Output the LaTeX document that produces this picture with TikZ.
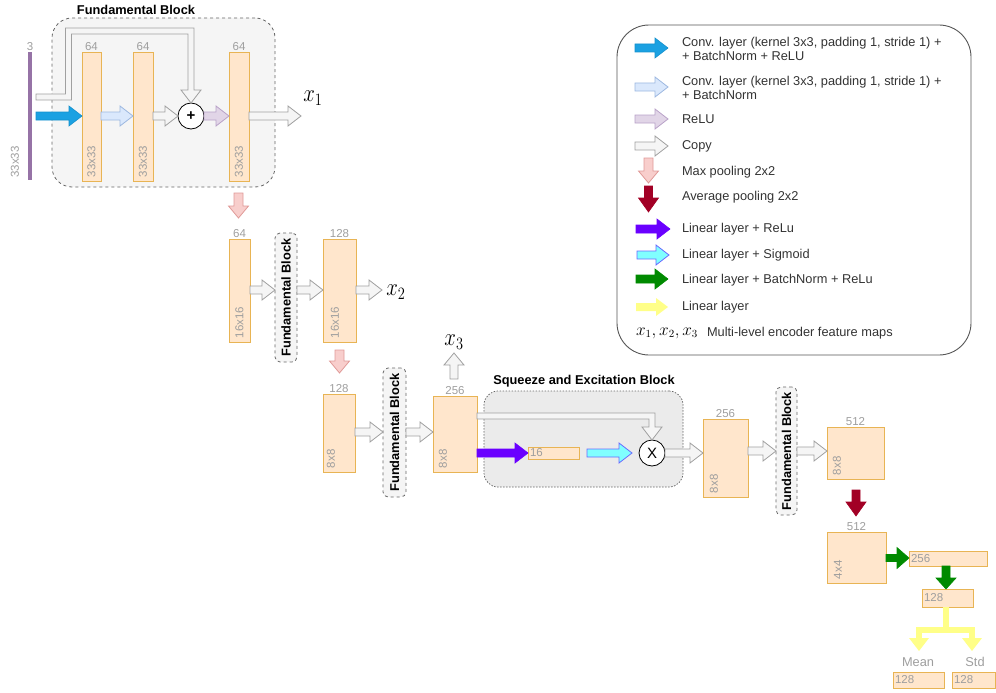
\documentclass[tikz,border=0pt]{standalone}
\usepackage{fontspec}
\setmainfont{Liberation Sans}
\usetikzlibrary{calc}
\definecolor{layerfill}{HTML}{FFE6CC}
\definecolor{layerdraw}{HTML}{E8B454}
\definecolor{dimgray}{HTML}{9E9E9E}
\definecolor{fbfill}{HTML}{F5F5F5}
\definecolor{fbdraw}{HTML}{666666}
\definecolor{sefill}{HTML}{EBEBEB}
\definecolor{barpurple}{HTML}{9673A6}
\definecolor{convblue}{HTML}{1BA1E2}
\definecolor{convbluedraw}{HTML}{1590CC}
\definecolor{lbfill}{HTML}{DAE8FC}
\definecolor{lbdraw}{HTML}{9DB8E0}
\definecolor{rlfill}{HTML}{E1D5E7}
\definecolor{rldraw}{HTML}{B9A2C8}
\definecolor{copyfill}{HTML}{F5F5F5}
\definecolor{copydraw}{HTML}{A0A0A0}
\definecolor{mpfill}{HTML}{F8CECC}
\definecolor{mpdraw}{HTML}{E09A98}
\definecolor{apfill}{HTML}{A20025}
\definecolor{lrfill}{HTML}{6A00FF}
\definecolor{sgfill}{HTML}{80FFFF}
\definecolor{sgdraw}{HTML}{6A6AFF}
\definecolor{grfill}{HTML}{008A00}
\definecolor{ylfill}{HTML}{FFFF88}
\definecolor{legdraw}{HTML}{555555}
\definecolor{legtxt}{HTML}{333333}
% block arrows: #2 start, #3 end, #4 shaft half width, #5 head half width, #6 head length
\newcommand{\RArr}[6][]{\path[#1] let \p1=#2, \p2=#3 in (\x1,\y1+#4) -- (\x2-#6,\y1+#4) -- (\x2-#6,\y1+#5) -- (\x2,\y1) -- (\x2-#6,\y1-#5) -- (\x2-#6,\y1-#4) -- (\x1,\y1-#4) -- cycle;}
\newcommand{\DArr}[6][]{\path[#1] let \p1=#2, \p2=#3 in (\x1-#4,\y1) -- (\x1-#4,\y2+#6) -- (\x1-#5,\y2+#6) -- (\x1,\y2) -- (\x1+#5,\y2+#6) -- (\x1+#4,\y2+#6) -- (\x1+#4,\y1) -- cycle;}
\newcommand{\UArr}[6][]{\path[#1] let \p1=#2, \p2=#3 in (\x1-#4,\y1) -- (\x1-#4,\y2-#6) -- (\x1-#5,\y2-#6) -- (\x1,\y2) -- (\x1+#5,\y2-#6) -- (\x1+#4,\y2-#6) -- (\x1+#4,\y1) -- cycle;}
\newcommand{\rarr}[3][]{\RArr[#1]{#2}{#3}{4pt}{10pt}{13pt}}
\newcommand{\darr}[3][]{\DArr[#1]{#2}{#3}{4.5pt}{10pt}{12pt}}
\newcommand{\mlbl}[1]{\scalebox{1}[1.2]{$#1$}}
\begin{document}
\begin{tikzpicture}[x=1pt,y=-1pt, line join=miter,
  every node/.style={inner sep=0pt, outer sep=0pt},
  layer/.style={draw=layerdraw, fill=layerfill, line width=0.9pt, anchor=north west},
  dim/.style={text=dimgray, font=\fontsize{11.5}{13}\selectfont, inner sep=1.5pt},
  dimr/.style={dim, rotate=90, anchor=west, inner sep=2pt},
  fbbox/.style={draw=fbdraw, dashed, fill=fbfill, line width=0.8pt, rounded corners=5pt, anchor=north west},
  ttl/.style={font=\bfseries\fontsize{12.8}{15}\selectfont},
  legtext/.style={font=\fontsize{12.8}{14.5}\selectfont, text=legtxt, anchor=west, align=left},
  mathlbl/.style={font=\fontsize{20}{24}\selectfont},
  copyarr/.style={draw=copydraw, fill=copyfill, line width=0.8pt},
  convarr/.style={draw=convbluedraw, fill=convblue, line width=0.6pt},
  bnarr/.style={draw=lbdraw, fill=lbfill, line width=0.8pt},
  reluarr/.style={draw=rldraw, fill=rlfill, line width=0.8pt},
  mparr/.style={draw=mpdraw, fill=mpfill, line width=0.8pt},
  aparr/.style={draw=apfill, fill=apfill, line width=0.6pt},
  lrarr/.style={draw=lrfill, fill=lrfill, line width=0.6pt},
  sgarr/.style={draw=sgdraw, fill=sgfill, line width=0.8pt},
  grarr/.style={draw=grfill, fill=grfill, line width=0.6pt},
  ylarr/.style={fill=ylfill},
  opnode/.style={circle, draw=black, fill=white, line width=0.8pt, minimum size=26pt, font=\fontsize{15}{16}\selectfont}
]
\useasboundingbox (0,0) rectangle (996,693);

% ---------------- Fundamental block 1 ----------------
\node[fbbox, rounded corners=20pt, minimum width=223pt, minimum height=169pt] (fb1) at (52,18) {};
\node[ttl] (fb1t) at (136,10) {Fundamental Block};
\fill[barpurple] (28.3,52) rectangle (32.3,180);
\coordinate (inbar) at (30,52);
\node[dim, above] at (inbar) {3};
\node[dim, rotate=90] at (15,162) {33x33};

\node[layer, minimum width=19pt, minimum height=129pt] (r1) at (82,52) {};
\node[layer, minimum width=20pt, minimum height=129pt] (r2) at (133,52) {};
\node[layer, minimum width=20pt, minimum height=129pt] (r3) at (229,52) {};
\foreach \r in {r1,r2,r3}{
  \node[dim, above] at (\r.north) {64};
  \node[dimr] at ($(\r.south)+(0,-2)$) {33x33};
}
\node[opnode] (plus) at (191,116) {\textbf{+}};

\path[copyarr] (36,94) -- (65.5,94) -- (65.5,28) -- (194,28) -- (194,90) -- (201,90) -- (191,103) -- (181,90) -- (188,90) -- (188,34) -- (71.5,34) -- (71.5,100) -- (36,100) -- cycle;
\coordinate (in1) at (36,116);
\rarr[convarr]{(in1)}{(r1.west |- in1)}
\rarr[bnarr]{(r1.east |- in1)}{(r2.west |- in1)}
\rarr[copyarr]{(r2.east |- in1)}{(plus.west)}
\rarr[reluarr]{(plus.east)}{(r3.west |- in1)}
\coordinate (x1end) at (301,116);
\rarr[copyarr]{(r3.east |- in1)}{(x1end)}
\node[mathlbl] (x1) at (313,98) {\mlbl{x_1}};

% ---------------- level 2 ----------------
\node[layer, minimum width=21pt, minimum height=103pt] (r4) at (229,239) {};
\node[dim, above] at (r4.north) {64};
\node[dimr] at ($(r4.south west)+(10.5,-2)$) {16x16};
\coordinate (mp1a) at (238.5,193);
\darr[mparr]{(mp1a)}{(mp1a |- 0,218)}

\node[fbbox, minimum width=22pt, minimum height=129pt] (fb2) at (275,233) {};
\node[ttl, rotate=90] at (fb2.center) {Fundamental Block};

\node[layer, minimum width=33pt, minimum height=103pt] (r5) at (323,239) {};
\node[dim, above] at (r5.north) {128};
\node[dimr] at ($(r5.south west)+(12,-2)$) {16x16};

\coordinate (l2) at (0,290);
\rarr[copyarr]{(r4.east |- l2)}{(fb2.west |- l2)}
\rarr[copyarr]{(fb2.east |- l2)}{(r5.west |- l2)}
\coordinate (x2end) at (382,290);
\rarr[copyarr]{(r5.east |- l2)}{(x2end)}
\node[mathlbl] (x2) at (396,292) {\mlbl{x_2}};

% ---------------- level 3 ----------------
\coordinate (mp2a) at (339.5,350);
\darr[mparr]{(mp2a)}{(mp2a |- 0,373)}
\node[layer, minimum width=32pt, minimum height=78pt] (r6) at (323,394) {};
\node[dim, above] at (r6.north) {128};
\node[dimr] at ($(r6.south west)+(8,-2)$) {8x8};

\node[fbbox, minimum width=23pt, minimum height=129pt] (fb3) at (383,368) {};
\node[ttl, rotate=90] at (fb3.center) {Fundamental Block};

\node[layer, minimum width=44pt, minimum height=76pt] (r7) at (433,396) {};
\node[dim, above] at (r7.north) {256};
\node[dimr] at ($(r7.south west)+(10,-2)$) {8x8};

\coordinate (l3) at (0,432);
\rarr[copyarr]{(r6.east |- l3)}{(fb3.west |- l3)}
\rarr[copyarr]{(fb3.east |- l3)}{(r7.west |- l3)}
\coordinate (x3a) at (454,379);
\UArr[copyarr]{(x3a)}{(x3a |- 0,353)}{4pt}{10pt}{12pt}
\node[mathlbl] (x3) at (454,342) {\mlbl{x_3}};

% ---------------- SE block ----------------
\node[draw=fbdraw, dash pattern=on 1.5pt off 1.5pt, fill=sefill, line width=0.7pt, rounded corners=14pt, anchor=north west, minimum width=199pt, minimum height=96pt] (se) at (484,391) {};
\node[ttl] at (584,381) {Squeeze and Excitation Block};
\node[opnode] (times) at (652,453) {X};
\node[layer, minimum width=51pt, minimum height=12pt] (r8) at (528,447) {};
\node[dim, anchor=west, inner sep=2pt] at (r8.west) {16};
\path[copyarr] (477,413) -- (655,413) -- (655,427) -- (662,427) -- (652,440) -- (642,427) -- (649,427) -- (649,419) -- (477,419) -- cycle;
\rarr[lrarr]{(r7.east |- times)}{(r8.west |- times)}
\coordinate (sga) at (587,453);
\coordinate (sgb) at (632,453);
\rarr[sgarr]{(sga)}{(sgb)}

% ---------------- level 4 ----------------
\node[layer, minimum width=45pt, minimum height=78pt] (r9) at (703,419) {};
\node[dim, above] at (r9.north) {256};
\node[dimr] at ($(r9.south west)+(11,-2)$) {8x8};
\rarr[copyarr]{(times.east)}{(r9.west |- times)}

\node[fbbox, minimum width=21pt, minimum height=128pt] (fb4) at (776,387) {};
\node[ttl, rotate=90] at (fb4.center) {Fundamental Block};

\node[layer, minimum width=57pt, minimum height=52pt] (r10) at (827,427) {};
\node[dim, above] at (r10.north) {512};
\node[dimr] at ($(r10.south west)+(10,-2)$) {8x8};

\coordinate (l4) at (0,451);
\rarr[copyarr]{(r9.east |- l4)}{(fb4.west |- l4)}
\rarr[copyarr]{(fb4.east |- l4)}{(r10.west |- l4)}

\coordinate (apa) at (856,490);
\DArr[aparr]{(apa)}{(apa |- 0,516)}{4pt}{10pt}{14pt}

\node[layer, minimum width=59pt, minimum height=51pt] (r11) at (827,532) {};
\node[dim, above] at (r11.north) {512};
\node[dimr] at ($(r11.south west)+(11,-2)$) {4x4};

\node[layer, minimum width=78pt, minimum height=15pt] (r12) at (909,551) {};
\node[dim, anchor=west, inner sep=2pt] at (r12.west) {256};
\node[layer, minimum width=51pt, minimum height=18pt] (r13) at (922,589) {};
\node[dim, anchor=west, inner sep=2pt] at (r13.west) {128};

\coordinate (g1) at (0,558);
\RArr[grarr]{(r11.east |- g1)}{(r12.west |- g1)}{3.5pt}{10.5pt}{12pt}
\coordinate (g2) at (946,566);
\DArr[grarr]{(g2)}{(g2 |- r13.north)}{4pt}{10pt}{11pt}

\node[layer, minimum width=51pt, minimum height=16pt] (r14) at (893,672) {};
\node[dim, anchor=west, inner sep=2pt] at (r14.west) {128};
\node[layer, minimum width=43pt, minimum height=16pt] (r15) at (952,672) {};
\node[dim, anchor=west, inner sep=2pt] at (r15.west) {128};
\node[dim, font=\fontsize{12.8}{14}\selectfont] (mean) at (918,662) {Mean};
\node[dim, font=\fontsize{12.8}{14}\selectfont] (std) at (975,662) {Std};

\fill[ylfill] (943,607) rectangle (949,633);
\fill[ylfill] (916,627) rectangle (975,633);
\fill[ylfill] (916,627) rectangle (922,639);
\fill[ylfill] (909,638) -- (929,638) -- (919,651) -- cycle;
\fill[ylfill] (969,627) rectangle (975,639);
\fill[ylfill] (962,638) -- (982,638) -- (972,651) -- cycle;

% ---------------- legend ----------------
\node[draw=legdraw, line width=0.9pt, rounded corners=32pt, anchor=north west, minimum width=354pt, minimum height=330pt] (leg) at (617,25) {};
\coordinate (la1) at (635,48);   \coordinate (lb1) at (668,48);
\rarr[convarr]{(la1)}{(lb1)}
\node[legtext] at (682,49) {Conv. layer (kernel 3x3, padding 1, stride 1) +\\+ BatchNorm + ReLU};
\coordinate (la2) at (635,87);   \coordinate (lb2) at (668,87);
\rarr[bnarr]{(la2)}{(lb2)}
\node[legtext] at (682,88) {Conv. layer (kernel 3x3, padding 1, stride 1) +\\+ BatchNorm};
\coordinate (la3) at (635,119);  \coordinate (lb3) at (668,119);
\rarr[reluarr]{(la3)}{(lb3)}
\node[legtext] at (682,119) {ReLU};
\coordinate (la4) at (635,146);  \coordinate (lb4) at (668,146);
\rarr[copyarr]{(la4)}{(lb4)}
\node[legtext] at (682,146) {Copy};
\coordinate (la5) at (648.5,158); \coordinate (lb5) at (648.5,183);
\darr[mparr]{(la5)}{(lb5)}
\node[legtext] at (682,172) {Max pooling 2x2};
\coordinate (la6) at (648.5,186); \coordinate (lb6) at (648.5,212);
\DArr[aparr]{(la6)}{(lb6)}{4pt}{10pt}{14pt}
\node[legtext] at (682,197) {Average pooling 2x2};
\coordinate (la7) at (636,229);  \coordinate (lb7) at (670,229);
\rarr[lrarr]{(la7)}{(lb7)}
\node[legtext] at (682,229) {Linear layer + ReLu};
\coordinate (la8) at (637,255);  \coordinate (lb8) at (669,255);
\rarr[sgarr]{(la8)}{(lb8)}
\node[legtext] at (682,255) {Linear layer + Sigmoid};
\coordinate (la9) at (636,279);  \coordinate (lb9) at (668,279);
\rarr[grarr]{(la9)}{(lb9)}
\node[legtext] at (682,280) {Linear layer + BatchNorm + ReLu};
\coordinate (la10) at (636,307); \coordinate (lb10) at (668,307);
\RArr[ylarr]{(la10)}{(lb10)}{4pt}{9pt}{12pt}
\node[legtext] at (682,307) {Linear layer};
\node[anchor=west, font=\fontsize{16}{18}\selectfont] at (636,333) {$x_1,x_2,x_3$};
\node[legtext] at (707,333) {Multi-level encoder feature maps};
\end{tikzpicture}
\end{document}
